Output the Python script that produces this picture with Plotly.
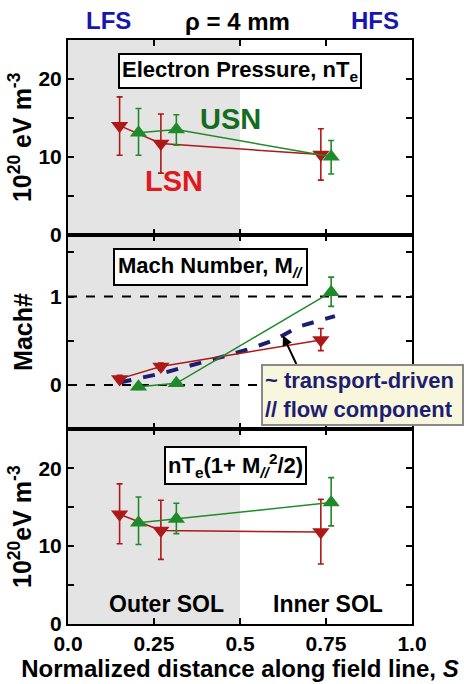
import plotly.graph_objects as go
from plotly.subplots import make_subplots

# Probe positions along the field line (normalized distance S)
s_lsn = [0.15, 0.27, 0.735]
s_usn = [0.205, 0.315, 0.765]

# Electron pressure nTe (10^20 eV m^-3)
pe_lsn = [14.0, 11.7, 10.3]
pe_lsn_hi = [17.7, 15.5, 13.6]
pe_lsn_lo = [10.2, 7.9, 7.0]
pe_usn = [13.1, 13.5, 10.0]
pe_usn_hi = [16.2, 15.4, 12.1]
pe_usn_lo = [10.2, 11.5, 7.8]

# Parallel Mach number
m_lsn = [0.07, 0.21, 0.51]
m_lsn_hi = [0.11, 0.25, 0.64]
m_lsn_lo = [0.04, 0.17, 0.39]
m_usn = [-0.02, 0.02, 1.05]
m_usn_hi = [0.01, 0.05, 1.22]
m_usn_lo = [-0.05, -0.01, 0.89]

# Transport-driven parallel flow component estimate
s_flow = [0.15, 0.27, 0.44, 0.52, 0.60, 0.67, 0.776]
m_flow = [0.03, 0.13, 0.31, 0.40, 0.51, 0.66, 0.78]

# Total pressure nTe(1 + M^2/2)
pt_lsn = [14.1, 12.0, 11.8]
pt_lsn_hi = [18.0, 15.9, 16.0]
pt_lsn_lo = [10.3, 8.3, 7.7]
pt_usn = [13.0, 13.5, 15.6]
pt_usn_hi = [16.3, 15.5, 18.8]
pt_usn_lo = [10.2, 11.6, 12.6]

RED = "#ad1818"
GREEN = "#1f8a29"
NAVY = "#1d1d72"
FONT = "Liberation Sans"

fig = make_subplots(rows=3, cols=1, shared_xaxes=True, vertical_spacing=0)


def add_pair(row, xl, yl, hl, ll, xu, yu, hu, lu):
    fig.add_trace(go.Scatter(
        x=xl, y=yl, mode="lines+markers",
        line=dict(color=RED, width=1.5),
        marker=dict(symbol="triangle-down", size=15, color=RED),
        error_y=dict(type="data", symmetric=False,
                     array=[h - v for h, v in zip(hl, yl)],
                     arrayminus=[v - l for v, l in zip(yl, ll)],
                     color=RED, thickness=1.6, width=3),
        showlegend=False), row=row, col=1)
    fig.add_trace(go.Scatter(
        x=xu, y=yu, mode="lines+markers",
        line=dict(color=GREEN, width=1.5),
        marker=dict(symbol="triangle-up", size=15, color=GREEN),
        error_y=dict(type="data", symmetric=False,
                     array=[h - v for h, v in zip(hu, yu)],
                     arrayminus=[v - l for v, l in zip(yu, lu)],
                     color=GREEN, thickness=1.6, width=3),
        showlegend=False), row=row, col=1)


# Reference lines at M = 0 and M = 1
for lvl in [0, 1]:
    fig.add_trace(go.Scatter(x=[0, 1], y=[lvl, lvl], mode="lines",
                             line=dict(color="black", width=2, dash="dash"),
                             showlegend=False, hoverinfo="skip"), row=2, col=1)

add_pair(1, s_lsn, pe_lsn, pe_lsn_hi, pe_lsn_lo, s_usn, pe_usn, pe_usn_hi, pe_usn_lo)
fig.add_trace(go.Scatter(x=s_flow, y=m_flow, mode="lines",
                         line=dict(color=NAVY, width=4, dash="dash"),
                         showlegend=False), row=2, col=1)
add_pair(2, s_lsn, m_lsn, m_lsn_hi, m_lsn_lo, s_usn, m_usn, m_usn_hi, m_usn_lo)
add_pair(3, s_lsn, pt_lsn, pt_lsn_hi, pt_lsn_lo, s_usn, pt_usn, pt_usn_hi, pt_usn_lo)

# Outer SOL shading
for r in [1, 2, 3]:
    xr = "x" if r == 1 else f"x{r}"
    yr = "y" if r == 1 else f"y{r}"
    fig.add_shape(type="rect", xref=xr, yref=f"{yr} domain", x0=0, x1=0.5, y0=0, y1=1,
                  fillcolor="#e4e4e4", line=dict(width=0), layer="below")

axis_common = dict(showline=True, linecolor="black", linewidth=2, mirror="allticks",
                   ticks="inside", ticklen=6, tickwidth=2, tickcolor="black",
                   showgrid=False, zeroline=False)

for r in [1, 2, 3]:
    fig.update_xaxes(range=[0, 1], tickvals=[0, 0.25, 0.5, 0.75, 1.0],
                     ticktext=["<b>0.0</b>", "<b>0.25</b>", "<b>0.5</b>", "<b>0.75</b>", "<b>1.0</b>"],
                     tickfont=dict(family=FONT, size=21, color="black"),
                     row=r, col=1, **axis_common)
fig.update_xaxes(showticklabels=True, row=3, col=1,
                 title=dict(text="<b>Normalized distance along field line, <i>S</i></b>",
                            font=dict(family=FONT, size=24, color="black"), standoff=0))

ytick_font = dict(family=FONT, size=21, color="black")
press_ticks = [0, 5, 10, 15, 20]
press_text = ["<b>0</b>", "", "<b>10</b>", "", "<b>20</b>"]
fig.update_yaxes(range=[0, 25], tickvals=press_ticks, ticktext=press_text, row=1, col=1,
                 tickfont=ytick_font,
                 title=dict(text="<b>10<sup>20</sup> eV m<sup>-3</sup></b>",
                            font=dict(family=FONT, size=25, color="black"), standoff=0),
                 **axis_common)
fig.update_yaxes(range=[-0.5, 1.7], tickvals=[-0.5, 0, 0.5, 1, 1.5],
                 ticktext=["", "<b>0</b>", "", "<b>1</b>", ""], row=2, col=1,
                 tickfont=ytick_font,
                 title=dict(text="<b>Mach#</b>",
                            font=dict(family=FONT, size=25, color="black"), standoff=10),
                 **axis_common)
fig.update_yaxes(range=[0, 25], tickvals=press_ticks, ticktext=press_text, row=3, col=1,
                 tickfont=ytick_font,
                 title=dict(text="<b>10<sup>20</sup>eV m<sup>-3</sup></b>",
                            font=dict(family=FONT, size=25, color="black"), standoff=0),
                 **axis_common)

ann_list = [
    # Header labels
    dict(text="<b>LFS</b>", xref="paper", yref="paper", x=0.047, y=1.0, yshift=20,
         font=dict(family=FONT, size=24, color="#1717b0"), showarrow=False, yanchor="middle"),
    dict(text="<b>HFS</b>", xref="paper", yref="paper", x=0.968, y=1.0, yshift=20,
         font=dict(family=FONT, size=24, color="#1717b0"), showarrow=False, yanchor="middle"),
    dict(text="<b>ρ = 4 mm</b>", xref="paper", yref="paper", x=0.494, y=1.0, yshift=19,
         font=dict(family=FONT, size=24, color="black"), showarrow=False, yanchor="middle"),
    # Panel titles
    dict(text="<b>Electron Pressure, nT<sub>e</sub></b>", xref="x", yref="y", x=0.5, y=21.0,
         font=dict(family=FONT, size=22, color="black"), showarrow=False,
         bgcolor="white", bordercolor="black", borderwidth=2, borderpad=2),
    dict(text="<b>Mach Number, M<sub><i>//</i></sub></b>", xref="x2", yref="y2", x=0.413, y=1.34,
         font=dict(family=FONT, size=22, color="black"), showarrow=False,
         bgcolor="white", bordercolor="black", borderwidth=2, borderpad=3),
    dict(text="<b>nT<sub>e</sub>(1+ M<sub><i>//</i></sub><sup>2</sup>/2)</b>", xref="x3", yref="y3",
         x=0.488, y=20.4,
         font=dict(family=FONT, size=22, color="black"), showarrow=False,
         bgcolor="white", bordercolor="black", borderwidth=2, borderpad=2),
    # Series labels
    dict(text="<b>USN</b>", xref="x", yref="y", x=0.471, y=14.8,
         font=dict(family=FONT, size=29, color="#146c1e"), showarrow=False),
    dict(text="<b>LSN</b>", xref="x", yref="y", x=0.308, y=6.9,
         font=dict(family=FONT, size=29, color="#e0191e"), showarrow=False),
    # Region labels
    dict(text="<b>Outer SOL</b>", xref="x3", yref="y3", x=0.285, y=2.6,
         font=dict(family=FONT, size=23, color="black"), showarrow=False),
    dict(text="<b>Inner SOL</b>", xref="x3", yref="y3", x=0.756, y=2.6,
         font=dict(family=FONT, size=23, color="black"), showarrow=False),
    # Flow component callout
    dict(text="", xref="x2", yref="y2", x=0.625, y=0.56, ax=14, ay=30,
         showarrow=True, arrowhead=2, arrowsize=1, arrowwidth=2, arrowcolor="black"),
    dict(text="<b>~ transport-driven <br>// flow component</b>", xref="x2", yref="y2",
         x=0.56, y=-0.11, xanchor="left", yanchor="middle", align="left",
         font=dict(family=FONT, size=22, color=NAVY), showarrow=False,
         bgcolor="#f8f6dc", bordercolor="#8a8a8a", borderwidth=2, borderpad=2),
]

fig.update_layout(
    width=464, height=684,
    margin=dict(l=68, r=52, t=40, b=56),
    plot_bgcolor="white", paper_bgcolor="white",
    annotations=ann_list,
    font=dict(family=FONT, color="black"),
)

fig.write_html("out.html")
